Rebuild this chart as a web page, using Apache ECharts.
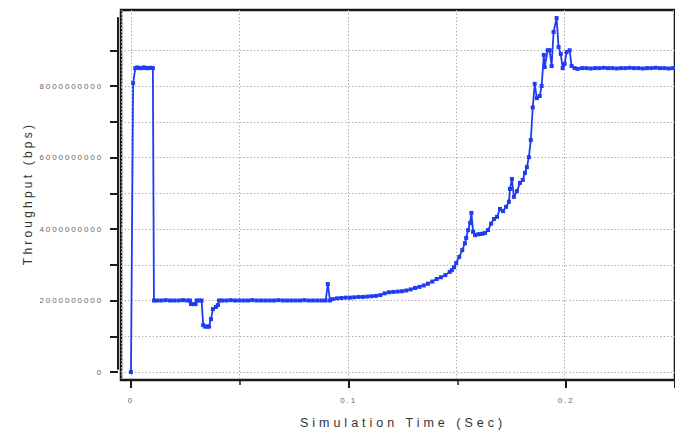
<!DOCTYPE html>
<html>
<head>
<meta charset="utf-8">
<script src="https://cdn.jsdelivr.net/npm/echarts@6/dist/echarts.min.js"></script>
<style>
  html, body { margin: 0; padding: 0; background: #fff; }
  #chart { width: 675px; height: 434px; }
  #chart text[style*="8px"] { letter-spacing: 1.9px; }
  #chart text[style*="12.5px"] { letter-spacing: 4px; }
  #chart text[style*="12px"] { letter-spacing: 3.2px; }
</style>
</head>
<body>
<div id="chart"></div>
<script>
// ---- data: [time (s), throughput (Gbps)] ----
const startBurst = [
  [0, 0], [0.001, 8.08], [0.002, 8.5], [0.003, 8.52], [0.004, 8.5], [0.005, 8.5],
  [0.006, 8.52], [0.007, 8.5], [0.008, 8.5], [0.009, 8.51], [0.0101, 8.5]
];
const lowPlateau = [
  [0.0106, 2.0], [0.012, 2.0], [0.014, 2.0], [0.016, 2.01], [0.018, 2.0], [0.020, 2.0],
  [0.022, 2.0], [0.024, 2.01], [0.026, 2.0], [0.0272, 2.0]
];
const dipSection = [
  [0.0277, 1.9], [0.0288, 1.9], [0.0298, 1.9], [0.0303, 2.0], [0.0315, 2.0], [0.0326, 2.0],
  [0.0333, 1.31], [0.0342, 1.27], [0.0352, 1.27], [0.036, 1.27], [0.0369, 1.48],
  [0.0378, 1.76], [0.0392, 1.82], [0.0401, 1.87], [0.0406, 2.0]
];
const flatRun = [
  [0.042, 2.0], [0.044, 2.0], [0.046, 2.01], [0.048, 2.0], [0.050, 2.0], [0.052, 2.0],
  [0.054, 2.0], [0.056, 2.01], [0.058, 2.0], [0.060, 2.0], [0.062, 2.0], [0.064, 2.0],
  [0.066, 2.0], [0.068, 2.01], [0.070, 2.0], [0.072, 2.0], [0.074, 2.0], [0.076, 2.0],
  [0.078, 2.0], [0.080, 2.01], [0.082, 2.0], [0.084, 2.0], [0.086, 2.0], [0.088, 2.0],
  [0.0898, 2.0], [0.0908, 2.46], [0.0918, 2.0]
];
const ramp = [
  [0.093, 2.04], [0.095, 2.06], [0.097, 2.07], [0.099, 2.08], [0.101, 2.08], [0.103, 2.09],
  [0.105, 2.1], [0.107, 2.1], [0.109, 2.11], [0.111, 2.12], [0.113, 2.13], [0.115, 2.15],
  [0.117, 2.2], [0.119, 2.23], [0.121, 2.24], [0.123, 2.25], [0.125, 2.26], [0.127, 2.28],
  [0.129, 2.31], [0.131, 2.35], [0.133, 2.38], [0.135, 2.42], [0.137, 2.47], [0.139, 2.53],
  [0.141, 2.6], [0.143, 2.65], [0.145, 2.71], [0.147, 2.8], [0.148, 2.85], [0.149, 2.93],
  [0.150, 3.05], [0.1514, 3.22], [0.1528, 3.41], [0.154, 3.6], [0.1546, 3.75],
  [0.1555, 3.97], [0.1564, 4.17], [0.157, 4.45], [0.1578, 3.92], [0.1587, 3.83],
  [0.160, 3.85], [0.161, 3.86], [0.1622, 3.87], [0.1633, 3.89], [0.1647, 3.97],
  [0.1661, 4.15], [0.1674, 4.28], [0.1688, 4.34], [0.1702, 4.56], [0.1716, 4.5],
  [0.173, 4.62], [0.1743, 4.76], [0.1748, 5.12], [0.1757, 5.4], [0.1766, 4.9],
  [0.178, 5.06], [0.1794, 5.29], [0.1807, 5.37], [0.1817, 5.57], [0.1826, 5.73],
  [0.1835, 6.01], [0.1844, 6.49], [0.1853, 7.4]
];
const peakSection = [
  [0.1862, 8.06], [0.1872, 7.66], [0.1885, 7.72], [0.1894, 8.0], [0.1904, 8.87],
  [0.1908, 8.53], [0.1922, 9.0], [0.1931, 9.0], [0.194, 8.56], [0.1949, 9.51],
  [0.1963, 9.9], [0.1972, 9.09], [0.1982, 8.9], [0.1991, 8.5], [0.2, 8.62],
  [0.2009, 8.95], [0.2023, 9.0], [0.2032, 8.56], [0.2046, 8.5]
];
const highPlateau = [
  [0.206, 8.48], [0.208, 8.5], [0.210, 8.5], [0.212, 8.49], [0.214, 8.5], [0.216, 8.5],
  [0.218, 8.51], [0.220, 8.5], [0.222, 8.5], [0.224, 8.49], [0.226, 8.5], [0.228, 8.5],
  [0.230, 8.51], [0.232, 8.5], [0.234, 8.5], [0.236, 8.49], [0.238, 8.5], [0.240, 8.5],
  [0.242, 8.51], [0.244, 8.5], [0.246, 8.5], [0.248, 8.49], [0.250, 8.5]
];
const xTickLabels = ['0', '0.1', '0.2'];
const yTickLabels = ['0', '2000000000', '4000000000', '6000000000', '8000000000'];

const seriesData = []
  .concat(startBurst, lowPlateau, dipSection, flatRun, ramp, peakSection, highPlateau)
  .map(p => [p[0], p[1] * 1e9]);

const chart = echarts.init(document.getElementById('chart'), null, { renderer: 'svg' });
const gridLine = { show: true, lineStyle: { color: '#b0b0b0', type: [1.5, 2], width: 1 } };
const axisColor = '#1a1a1a';

chart.setOption({
  animation: false,
  backgroundColor: '#ffffff',
  grid: [
    { left: 121, right: -3, top: 10, bottom: 54, show: true,
      borderColor: '#161616', borderWidth: 2.5, backgroundColor: 'transparent' },   // frame / data grid
    { left: 121, right: -1, top: 50.5, bottom: 62 },    // horizontal grid + y ticks
    { left: 131, right: -1, top: 18, bottom: 62 }       // offset axes
  ],
  xAxis: [
    { gridIndex: 0, type: 'value', min: -0.00459, max: 0.2509, splitNumber: 5,
      axisLine: { show: false, onZero: false }, axisTick: { show: false }, axisLabel: { show: false },
      splitLine: gridLine },
    { gridIndex: 1, type: 'value', min: 0, max: 1, show: false, axisLine: { onZero: false } },
    { gridIndex: 2, type: 'value', min: 0, max: 0.25, interval: 0.1, offset: 11,
      axisLine: { show: true, onZero: false, lineStyle: { color: axisColor, width: 2 } },
      axisTick: { show: true, length: 8, lineStyle: { color: axisColor, width: 2 } },
      minorTick: { show: true, splitNumber: 2, length: 5, lineStyle: { color: axisColor, width: 1.5 } },
      splitLine: { show: false },
      axisLabel: {
        showMaxLabel: false, margin: 16, color: '#666', fontSize: 8,
        fontFamily: 'Liberation Sans',
        formatter: v => xTickLabels.find(s => Math.abs(parseFloat(s) - v) < 1e-9) || ''
      },
      name: 'Simulation Time (Sec)', nameLocation: 'middle', nameGap: 36,
      nameTextStyle: { fontSize: 12.5, color: '#333', fontFamily: 'Liberation Sans' }
    }
  ],
  yAxis: [
    { gridIndex: 0, type: 'value', min: -0.2238e9, max: 10.126e9, show: false, axisLine: { onZero: false } },
    { gridIndex: 1, type: 'value', min: 0, max: 9e9, interval: 1e9, offset: 3,
      axisLine: { show: false, onZero: false },
      axisTick: { show: true, length: 8, lineStyle: { color: axisColor, width: 2 } },
      splitLine: gridLine,
      axisLabel: {
        margin: 15, color: '#666', fontSize: 8, fontFamily: 'Liberation Sans',
        formatter: v => yTickLabels.find(s => Math.abs(Number(s) - v) < 1) || ''
      }
    },
    { gridIndex: 2, type: 'value', min: 0, max: 1, offset: 13,
      axisLine: { show: true, onZero: false, lineStyle: { color: axisColor, width: 2 } },
      axisTick: { show: false }, axisLabel: { show: false }, splitLine: { show: false },
      name: 'Throughput (bps)', nameLocation: 'middle', nameGap: 84,
      nameTextStyle: { fontSize: 12, color: '#333', fontFamily: 'Liberation Sans' }
    }
  ],
  series: [
    { type: 'line', xAxisIndex: 0, yAxisIndex: 0, data: seriesData,
      symbol: 'rect', symbolSize: 4, showSymbol: true, showAllSymbol: true,
      lineStyle: { color: '#1f3cf2', width: 1.8 },
      itemStyle: { color: '#1f3cf2' } }
  ]
});
</script>
</body>
</html>
